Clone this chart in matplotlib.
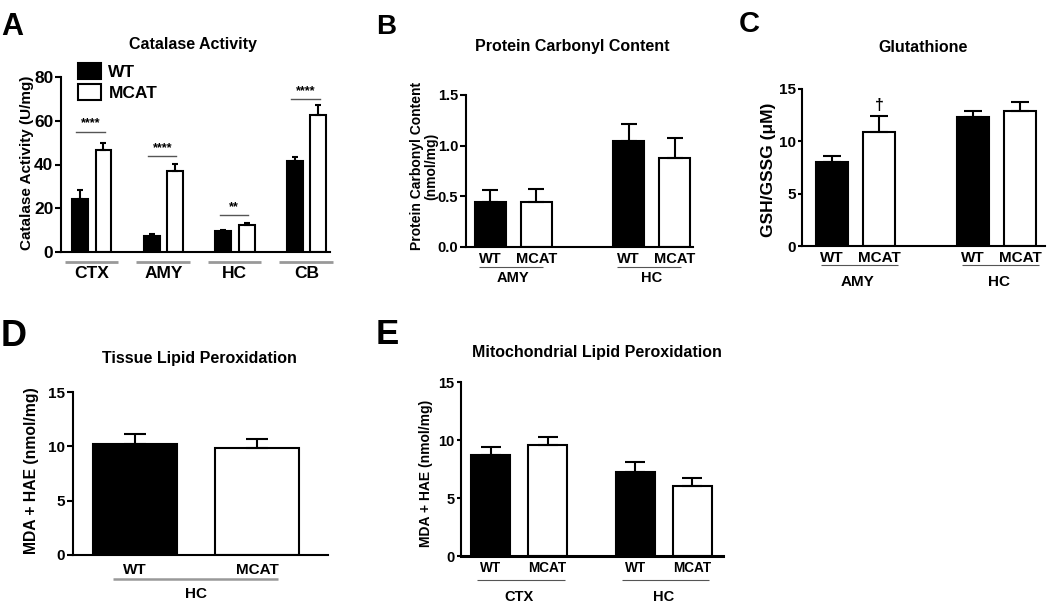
import matplotlib
matplotlib.use('Agg')
import matplotlib.pyplot as plt
import matplotlib.transforms as mtransforms
import numpy as np

plt.rcParams['font.family'] = ['Liberation Sans', 'DejaVu Sans']
plt.rcParams['font.weight'] = 'bold'

W, H = 1050, 614

# A - catalase activity (U/mg)
cat_regions = ['CTX', 'AMY', 'HC', 'CB']
cat_wt = [24.4, 7.5, 9.4, 41.6]
cat_wt_err = [3.8, 0.9, 0.5, 1.8]
cat_mcat = [46.6, 37.2, 12.5, 62.8]
cat_mcat_err = [3.4, 3.2, 0.9, 4.6]
cat_sig_y = [55, 43.7, 16.8, 70]
cat_sig = ['****', '****', '**', '****']

# B - protein carbonyl content (nmol/mg)
pc_regions = ['AMY', 'HC']
pc_wt = [0.445, 1.045]
pc_wt_err = [0.122, 0.172]
pc_mcat = [0.445, 0.874]
pc_mcat_err = [0.129, 0.204]

# C - glutathione GSH/GSSG
gsh_regions = ['AMY', 'HC']
gsh_wt = [7.98, 12.3]
gsh_wt_err = [0.62, 0.6]
gsh_mcat = [10.9, 12.9]
gsh_mcat_err = [1.5, 0.9]

# D - tissue lipid peroxidation
tlp_region = 'HC'
tlp_wt = [10.25]
tlp_wt_err = [0.92]
tlp_mcat = [9.88]
tlp_mcat_err = [0.76]

# E - mitochondrial lipid peroxidation
mlp_regions = ['CTX', 'HC']
mlp_wt = [8.75, 7.23]
mlp_wt_err = [0.63, 0.86]
mlp_mcat = [9.61, 6.05]
mlp_mcat_err = [0.63, 0.69]

fig = plt.figure(figsize=(W / 100, H / 100), dpi=100)


def add_ax(x0, x1, ytop, ybot):
    return fig.add_axes([x0 / W, 1 - ybot / H, (x1 - x0) / W, (ybot - ytop) / H])


def ftext(x, y, s, **kw):
    kw.setdefault('ha', 'center')
    kw.setdefault('va', 'center')
    return fig.text(x / W, 1 - y / H, s, **kw)


def style(ax, ylim, yticks, ylabels, fs, lw=1.5, blw=None, tl=4):
    ax.set_ylim(*ylim)
    ax.set_yticks(yticks, ylabels)
    ax.set_xticks([])
    for s in ['top', 'right']:
        ax.spines[s].set_visible(False)
    ax.spines['left'].set_linewidth(lw)
    ax.spines['bottom'].set_linewidth(blw or lw)
    ax.tick_params(axis='y', length=tl, width=lw, labelsize=fs, pad=1.5)
    ax.patch.set_alpha(0)


def bars(ax, pos, vals, errs, width, fill, cap, lw=1.5):
    return ax.bar(pos, vals, width, color=fill, edgecolor='black', linewidth=lw,
                  yerr=[np.zeros(len(errs)), errs],
                  error_kw=dict(ecolor='black', elinewidth=lw, capsize=cap, capthick=lw))


def xlab(ax, x, ypx, s, fs):
    tr = mtransforms.blended_transform_factory(ax.transData, fig.transFigure)
    ax.text(x, 1 - ypx / H, s, transform=tr, ha='center', va='center', fontsize=fs,
            clip_on=False)


def uline(ax, x0, x1, ypx, color, lw):
    tr = mtransforms.blended_transform_factory(ax.transData, fig.transFigure)
    ax.plot([x0, x1], [1 - ypx / H] * 2, transform=tr, color=color, lw=lw,
            clip_on=False, solid_capstyle='butt')


# ---------------- A
axA = add_ax(61, 330, 77, 252)
style(axA, (0, 80), [0, 20, 40, 60, 80], ['0', '20', '40', '60', '80'], 12.5)
xa = np.arange(len(cat_regions))
off, bw = 0.164, 0.223
axA.set_xlim(-0.43, 3.33)
b1 = bars(axA, xa - off, cat_wt, cat_wt_err, bw, 'black', 2.5)
b2 = bars(axA, xa + off, cat_mcat, cat_mcat_err, bw, 'white', 2.5)
for i, r in enumerate(cat_regions):
    uline(axA, xa[i] - 0.38, xa[i] + 0.37, 262, '#999999', 2)
    xlab(axA, xa[i], 274, r, 12.5)
    axA.plot([xa[i] - off - 0.05, xa[i] + off + 0.02], [cat_sig_y[i]] * 2,
             color='#555555', lw=1)
    axA.text(xa[i] - 0.01, cat_sig_y[i] + 1.0, cat_sig[i], ha='center', va='bottom',
             fontsize=9)
axA.legend([b1, b2], ['WT', 'MCAT'], loc='upper left', frameon=False,
           bbox_to_anchor=(78 / W, 1 - 63 / H), bbox_transform=fig.transFigure,
           fontsize=12.5, handlelength=1.3, handleheight=1.0, labelspacing=0.25,
           handletextpad=0.45, borderpad=0, borderaxespad=0)
ftext(193, 45, 'Catalase Activity', fontsize=11.5)
ftext(27, 163, 'Catalase Activity (U/mg)', fontsize=11, rotation=90)
ftext(12, 27, 'A', fontsize=22)

# ---------------- B
axB = add_ax(466, 693, 95, 247)
style(axB, (0, 1.5), [0, 0.5, 1.0, 1.5], ['0.0', '0.5', '1.0', '1.5'], 10.5)
pb = np.array([0, 3])
axB.set_xlim(-0.53, 4.4)
bars(axB, pb, pc_wt, pc_wt_err, 0.66, 'black', 5.5)
bars(axB, pb + 1, pc_mcat, pc_mcat_err, 0.66, 'white', 5.5)
for i, r in enumerate(pc_regions):
    xlab(axB, pb[i], 259, 'WT', 10.5)
    xlab(axB, pb[i] + 1, 259, 'MCAT', 10.5)
    uline(axB, pb[i] - 0.25, pb[i] + 1.15, 267, '#555555', 0.8)
    xlab(axB, pb[i] + 0.5, 278, r, 10.5)
ftext(572, 47, 'Protein Carbonyl Content', fontsize=11.5)
ftext(424, 166, 'Protein Carbonyl Content\n(nmol/mg)', fontsize=10, rotation=90,
      linespacing=1.0)
ftext(386, 27, 'B', fontsize=20)

# ---------------- C
axC = add_ax(802, 1045, 89, 246)
style(axC, (0, 15), [0, 5, 10, 15], ['0', '5', '10', '15'], 11, tl=3)
pc_ = np.array([0, 3])
axC.set_xlim(-0.64, 4.53)
bars(axC, pc_, gsh_wt, gsh_wt_err, 0.68, 'black', 6.5)
bars(axC, pc_ + 1, gsh_mcat, gsh_mcat_err, 0.68, 'white', 6.5)
axC.text(pc_[0] + 1, gsh_mcat[0] + gsh_mcat_err[0] + 0.35, '\u2020', ha='center',
         va='bottom', fontsize=11.5)
for i, r in enumerate(gsh_regions):
    xlab(axC, pc_[i], 258, 'WT', 11)
    xlab(axC, pc_[i] + 1, 258, 'MCAT', 11)
    uline(axC, pc_[i] - 0.24, pc_[i] + 1.4, 265, '#555555', 0.8)
    xlab(axC, pc_[i] + 0.55, 282, r, 11)
ftext(923, 47, 'Glutathione', fontsize=11.5)
ftext(769, 170, 'GSH/GSSG (\u03bcM)', fontsize=12.5, rotation=90)
ftext(749, 24, 'C', fontsize=21)

# ---------------- D
axD = add_ax(73, 328, 392, 555)
style(axD, (0, 15), [0, 5, 10, 15], ['0', '5', '10', '15'], 11)
axD.set_xlim(-0.51, 1.58)
bars(axD, [0], tlp_wt, tlp_wt_err, 0.69, 'black', 8)
bars(axD, [1], tlp_mcat, tlp_mcat_err, 0.69, 'white', 8)
xlab(axD, 0, 570, 'WT', 11)
xlab(axD, 1, 570, 'MCAT', 11)
uline(axD, -0.18, 1.17, 579, '#999999', 1.8)
xlab(axD, 0.5, 594, tlp_region, 11)
ftext(199, 358, 'Tissue Lipid Peroxidation', fontsize=11.5)
ftext(32, 471, 'MDA + HAE (nmol/mg)', fontsize=11.3, rotation=90)
ftext(14, 336, 'D', fontsize=26)

# ---------------- E
axE = add_ax(461, 723, 382, 556)
style(axE, (0, 15), [0, 5, 10, 15], ['0', '5', '10', '15'], 10.5, blw=2.2, tl=3)
pe = np.array([0, 2.54])
axE.set_xlim(-0.52, 4.08)
bars(axE, pe, mlp_wt, mlp_wt_err, 0.68, 'black', 7)
bars(axE, pe + 1, mlp_mcat, mlp_mcat_err, 0.68, 'white', 7)
for i, r in enumerate(mlp_regions):
    xlab(axE, pe[i], 568, 'WT', 9.8)
    xlab(axE, pe[i] + 1, 568, 'MCAT', 9.8)
    uline(axE, pe[i] - 0.24, pe[i] + 1.3, 580, '#555555', 0.8)
    xlab(axE, pe[i] + 0.5, 597, r, 10.5)
ftext(597, 353, 'Mitochondrial Lipid Peroxidation', fontsize=11.5)
ftext(426, 473, 'MDA + HAE (nmol/mg)', fontsize=10, rotation=90)
ftext(387, 334, 'E', fontsize=25)

fig.savefig('out.png', dpi=100)
